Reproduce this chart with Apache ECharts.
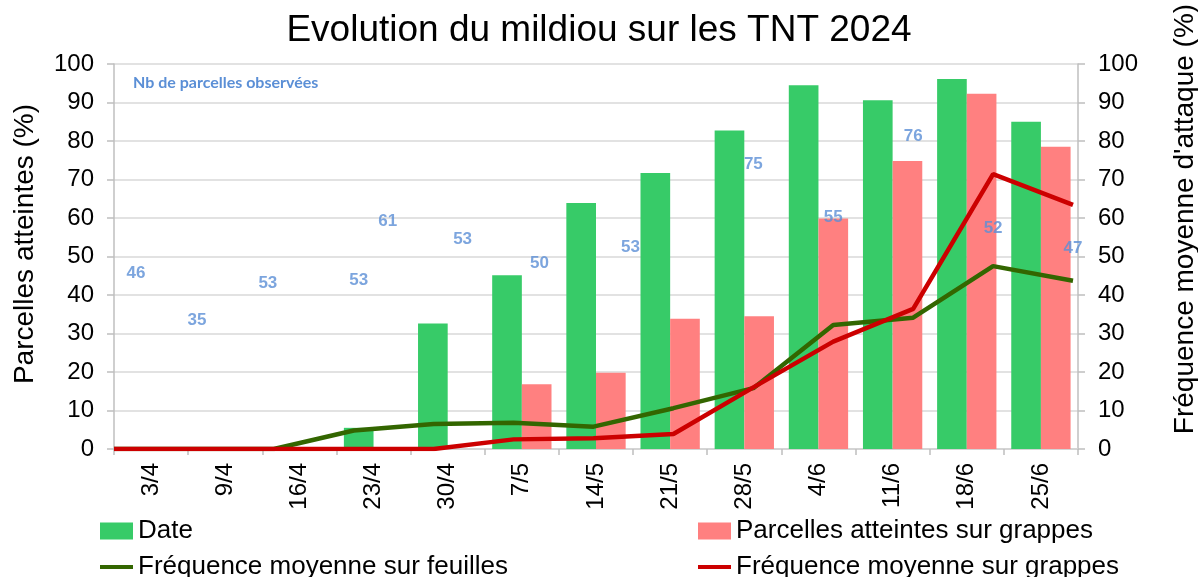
<!DOCTYPE html>
<html>
<head>
<meta charset="utf-8">
<script src="https://cdn.jsdelivr.net/npm/echarts@6/dist/echarts.min.js"></script>
<style>
    html, body {margin: 0; padding: 0; background: #fff;}
    #main {width: 1198px; height: 577px;}
</style>
</head>
<body>
<div id="main"></div>
<script>
// dates des observations
var dates = ['3/4', '9/4', '16/4', '23/4', '30/4', '7/5', '14/5', '21/5', '28/5', '4/6', '11/6', '18/6', '25/6'];
// parcelles atteintes (%)
var parcellesFeuilles = [null, null, null, 5.5, 32.6, 45.1, 63.9, 71.7, 82.7, 94.5, 90.6, 96.1, 85.0];
var parcellesGrappes = [null, null, null, null, null, 16.8, 19.8, 33.8, 34.5, 59.9, 74.8, 92.3, 78.5];
// fréquence moyenne d'attaque (%)
var freqFeuilles = [0, 0, 0, 4.8, 6.5, 6.8, 5.8, 10.6, 15.8, 32.2, 34.1, 47.5, 43.7];
var freqGrappes = [0, 0, 0, 0, 0, 2.5, 2.8, 3.9, 16.0, 27.9, 36.4, 71.4, 63.4];
// nb de parcelles observées
var nbParcelles = [46, 35, 53, 53, 61, 53, 50, 53, 75, 55, 76, 52, 47];

init_mildiou();

function init_mildiou() {
    var chart = echarts.init(document.getElementById('main'));
    var police = 'Liberation Sans, Arial, sans-serif';
    var grisAxe = '#bfbfbf';
    var grisGrille = '#d9d9d9';
    var bleu = '#5b8fd6';

    // étiquettes déplacées à la main dans le graphique d'origine
    var decalages = [[22, 1], [3, 6], [-6, 38], [5, 35], [-46, 7], [-51, -6], [-54, 7], [-43, 2],
        [0, 4], [0, -20], [0, -20], [0, -20], [0, -20]];
    var nbData = [];
    for (var i = 0; i < nbParcelles.length; i++) {
        nbData.push({
            value: [i, nbParcelles[i]],
            label: {offset: decalages[i]}
        });
    }

    var legendeTexte = {fontSize: 26, color: '#000', fontFamily: police};
    var traitLegende = 'path://M0,7 L33,7 L33,11 L0,11 Z';

    var option = {
        animation: false,
        title: {
            text: 'Evolution du mildiou sur les TNT 2024',
            left: 'center',
            top: 7,
            textStyle: {fontSize: 37, fontWeight: 'normal', color: '#000', fontFamily: police}
        },
        legend: [
            {left: 100, top: 518, padding: 0, itemWidth: 33, itemHeight: 17, textStyle: legendeTexte,
                data: [{name: 'Date', icon: 'rect'}]},
            {left: 698, top: 518, padding: 0, itemWidth: 33, itemHeight: 17, textStyle: legendeTexte,
                data: [{name: 'Parcelles atteintes sur grappes', icon: 'rect'}]},
            {left: 100, top: 554, padding: 0, itemWidth: 33, itemHeight: 17, textStyle: legendeTexte,
                data: [{name: 'Fréquence moyenne sur feuilles', icon: traitLegende}]},
            {left: 698, top: 554, padding: 0, itemWidth: 33, itemHeight: 17, textStyle: legendeTexte,
                data: [{name: 'Fréquence moyenne sur grappes', icon: traitLegende}]}
        ],
        grid: [
            {left: 114, right: 120, top: 64, bottom: 128},
            {left: 114, right: 125, top: 64, bottom: 128}
        ],
        xAxis: [
            {
                type: 'category',
                gridIndex: 0,
                data: dates,
                axisLine: {lineStyle: {color: grisAxe, width: 1.5}},
                axisTick: {show: true, length: 6, lineStyle: {color: grisAxe, width: 1.5}},
                axisLabel: {interval: 0, rotate: 90, fontSize: 24, color: '#000', margin: 14, fontFamily: police}
            },
            {
                type: 'category',
                gridIndex: 1,
                data: dates,
                boundaryGap: false,
                show: false
            },
            {
                type: 'category',
                gridIndex: 0,
                data: dates,
                position: 'bottom',
                offset: 59,
                axisLine: {lineStyle: {color: grisGrille, width: 1.5}},
                axisTick: {show: false},
                axisLabel: {show: false}
            }
        ],
        yAxis: [
            {
                type: 'value',
                gridIndex: 0,
                min: 0, max: 100, interval: 10,
                axisLine: {show: true, lineStyle: {color: grisAxe, width: 1.5}},
                axisTick: {show: true, length: 7, lineStyle: {color: grisAxe, width: 1.5}},
                axisLabel: {fontSize: 24, color: '#000', margin: 20, fontFamily: police},
                splitLine: {lineStyle: {color: grisGrille, width: 1.5}}
            },
            {
                type: 'value',
                gridIndex: 0,
                position: 'right',
                min: 0, max: 100, interval: 10,
                axisLine: {show: true, lineStyle: {color: grisAxe, width: 1.5}},
                axisTick: {show: true, length: 7, lineStyle: {color: grisAxe, width: 1.5}},
                axisLabel: {fontSize: 24, color: '#000', margin: 20, fontFamily: police},
                splitLine: {show: false}
            },
            {
                type: 'value',
                gridIndex: 1,
                min: 0, max: 100,
                show: false
            }
        ],
        graphic: [
            {
                type: 'text', left: 133, top: 75,
                style: {text: 'Nb de parcelles observées', fontSize: 16, fontWeight: 'bold', fontFamily: 'Lato', fill: bleu}
            },
            {
                type: 'text', x: 25, y: 244, rotation: Math.PI / 2,
                style: {text: 'Parcelles atteintes (%)', fontSize: 28, fontFamily: police, fill: '#000',
                    align: 'center', verticalAlign: 'middle', textAlign: 'center', textVerticalAlign: 'middle'}
            },
            {
                type: 'text', x: 1185, y: 219, rotation: Math.PI / 2,
                style: {text: "Fréquence moyenne d'attaque (%)", fontSize: 28, fontFamily: police, fill: '#000',
                    align: 'center', verticalAlign: 'middle', textAlign: 'center', textVerticalAlign: 'middle'}
            }
        ],
        series: [
            {
                name: 'Date',
                type: 'bar',
                xAxisIndex: 0, yAxisIndex: 0,
                barCategoryGap: '20%',
                barGap: '0%',
                itemStyle: {color: '#37cb68'},
                data: parcellesFeuilles
            },
            {
                name: 'Parcelles atteintes sur grappes',
                type: 'bar',
                xAxisIndex: 0, yAxisIndex: 0,
                barCategoryGap: '20%',
                barGap: '0%',
                itemStyle: {color: '#ff8080'},
                data: parcellesGrappes
            },
            {
                name: 'Fréquence moyenne sur feuilles',
                type: 'line',
                xAxisIndex: 1, yAxisIndex: 2,
                symbol: 'none',
                itemStyle: {color: '#336600'},
                lineStyle: {color: '#336600', width: 4.5},
                data: freqFeuilles
            },
            {
                name: 'Fréquence moyenne sur grappes',
                type: 'line',
                xAxisIndex: 1, yAxisIndex: 2,
                symbol: 'none',
                itemStyle: {color: '#cc0000'},
                lineStyle: {color: '#cc0000', width: 4.5},
                data: freqGrappes
            },
            {
                name: 'Nb de parcelles observées',
                type: 'scatter',
                xAxisIndex: 1, yAxisIndex: 2,
                symbolSize: 0,
                silent: true,
                label: {
                    show: true,
                    position: 'inside',
                    formatter: function (p) { return p.value[1]; },
                    fontSize: 17,
                    fontWeight: 'bold',
                    color: bleu,
                    fontFamily: police
                },
                data: nbData
            }
        ]
    };
    chart.setOption(option);
}
</script>
</body>
</html>
